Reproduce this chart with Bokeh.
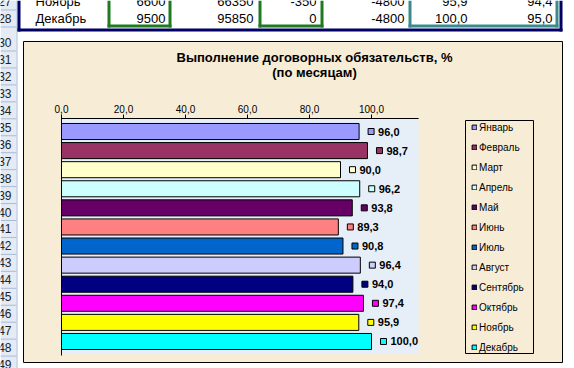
from bokeh.plotting import figure
from bokeh.models import Range1d, ColumnDataSource
from bokeh.core.properties import value
from bokeh.transform import dodge
from bokeh.embed import file_html
from bokeh.resources import INLINE

# ---------------- data ----------------
months = ["Январь", "Февраль", "Март", "Апрель", "Май", "Июнь", "Июль",
          "Август", "Сентябрь", "Октябрь", "Ноябрь", "Декабрь"]
values = [96.0, 98.7, 90.0, 96.2, 93.8, 89.3, 90.8, 96.4, 94.0, 97.4, 95.9, 100.0]
colors = ["#9999FF", "#993366", "#FFFFCC", "#CCFFFF", "#660066", "#FF8080", "#0066CC",
          "#CCCCFF", "#000080", "#FF00FF", "#FFFF00", "#00FFFF"]
tick_values = [0, 20, 40, 60, 80, 100]
tick_labels = ["0,0", "20,0", "40,0", "60,0", "80,0", "100,0"]
axis_max = 115.2
title_lines = ["Выполнение договорных обязательств, %", "(по месяцам)"]

table_names = ["Ноябрь", "Декабрь"]
table_plan = ["6600", "9500"]
table_cum = ["66350", "95850"]
table_dev = ["-350", "0"]
table_dev2 = ["-4800", "-4800"]
table_pct1 = ["95,9", "100,0"]
table_pct2 = ["94,4", "95,0"]
row_numbers = ["27", "28"] + [str(n) for n in range(30, 50)]

# ---------------- layout (pixels, top-left origin) ----------------
W, H = 574, 368
FL, FR, FT, FB = 61, 418, 118, 353   # plot area
PX = 3.1                              # pixels per percent unit
BAND = 19.09                          # pixels per category band
FIRST = 131                           # pixel centre of first category
PARCH = "#F7EDD6"
PLOTBG = "#E6EEF7"
FONT = "Liberation Sans"

p = figure(width=W, height=H, x_range=Range1d(0, W), y_range=Range1d(H, 0),
           x_axis_location=None, y_axis_location=None, output_backend="svg",
           toolbar_location=None, min_border=0)
p.grid.visible = False
p.outline_line_color = None
p.border_fill_color = "white"
p.background_fill_color = "white"

p.extra_x_ranges = {"pct": Range1d(-FL / PX, (W - FL) / PX)}
p.extra_y_ranges = {"mon": Range1d((H - FIRST) / BAND, -FIRST / BAND)}


def box(x0, y0, x1, y1, fill, line=None, lw=1):
    p.quad(left=[x0], right=[x1], top=[y0], bottom=[y1], fill_color=fill,
           line_color=line, line_width=lw)


def txt(xs, ys, texts, size="12px", align="left", bold=False, color="black", baseline="middle"):
    p.text(x=xs, y=ys, text=texts, text_font=value(FONT), text_font_size=value(size),
           text_align=align, text_baseline=baseline,
           text_font_style="bold" if bold else "normal", text_color=color)


# ---- spreadsheet surroundings ----
box(0, 0, 16, H, "#E4EBF5")
row_centers = [1, 18] + [42 + i * 16.95 for i in range(20)]
txt([11] * len(row_numbers), row_centers, row_numbers, size="12px", align="right", color="#222222")
p.segment(x0=[0] * len(row_centers), x1=[16] * len(row_centers),
          y0=[c + 8.5 for c in row_centers], y1=[c + 8.5 for c in row_centers],
          line_color="#A9BCD6", line_width=1)
p.segment(x0=[16.5], x1=[16.5], y0=[0], y1=[H], line_color="#A9BCD6", line_width=1)

# table frame
box(17, 0, 20, 31, "#000066")
box(17, 28, 562, 31, "#000066")
box(559, 0, 562, 31, "#000066")
for (a, b_) in [(107, 171), (258, 323)]:
    box(a, 0, a + 3, 27, "#1E7B1E")
    box(b_ - 3, 0, b_, 27, "#1E7B1E")
    box(a, 24, b_, 27, "#1E7B1E")
box(408, 0, 411, 27, "#3A8C8C")
box(555, 0, 558, 27, "#3A8C8C")
box(408, 24, 558, 27, "#3A8C8C")

table_y = [1, 18]
txt([35, 35], table_y, table_names, size="13px")
for xr, col in [(165, table_plan), (253, table_cum), (316, table_dev),
                (404, table_dev2), (467, table_pct1), (552, table_pct2)]:
    txt([xr, xr], table_y, col, size="13px", align="right")

# ---- chart area ----
box(23, 41, 562, 362, PARCH, line="black", lw=1)
box(465, 120, 533, 353, PARCH, line="black", lw=1)
txt([314, 314], [57, 72], title_lines, size="13px", align="center", bold=True)

# plot area background (percent units horizontally)
p.quad(left=[0], right=[axis_max], top=[FT], bottom=[FB], fill_color=PLOTBG,
       line_color=None, x_range_name="pct")

# top value axis
p.segment(x0=[0], x1=[axis_max], y0=[FT], y1=[FT], line_color="black", line_width=1,
          x_range_name="pct")
p.segment(x0=tick_values, x1=tick_values, y0=[FT - 4] * len(tick_values),
          y1=[FT] * len(tick_values), line_color="black", line_width=1, x_range_name="pct")
p.text(x=tick_values, y=[FT - 6] * len(tick_values), text=tick_labels, x_range_name="pct",
       text_font=value(FONT), text_font_size=value("10px"), text_align="center",
       text_baseline="bottom", text_color="black")

# ---- bars ----
src = ColumnDataSource(dict(
    month=months, idx=list(range(len(months))), value=values, color=colors,
    label=[f"{v:.1f}".replace(".", ",") for v in values]))

p.hbar(y="idx", right="value", left=0, height=0.84, fill_color="color",
       line_color="black", line_width=1, source=src, legend_field="month",
       x_range_name="pct", y_range_name="mon")

# left category axis line
p.segment(x0=[0], x1=[0], y0=[FT - 1], y1=[FB + 2], line_color="black", line_width=1,
          x_range_name="pct")

p.scatter(x=dodge("value", 12 / PX), y="idx", marker="square", size=6,
          fill_color="color", line_color="black", line_width=1, source=src,
          x_range_name="pct", y_range_name="mon")

p.text(x="value", y="idx", text="label", source=src, x_offset=19,
       text_baseline="middle", text_font=value(FONT), text_font_size=value("11px"),
       text_font_style="bold", text_color="black", x_range_name="pct", y_range_name="mon")

# ---- legend ----
lg = p.legend[0]
lg.location = (471, H - FB)
lg.border_line_color = None
lg.background_fill_alpha = 0
lg.padding = 0
lg.margin = 0
lg.glyph_width = 6
lg.glyph_height = 6
lg.label_height = 12
lg.spacing = 8
lg.label_standoff = 2
lg.label_text_font = FONT
lg.label_text_font_size = "10px"
lg.label_text_color = "black"

open("out.html", "w").write(file_html(p, INLINE))
